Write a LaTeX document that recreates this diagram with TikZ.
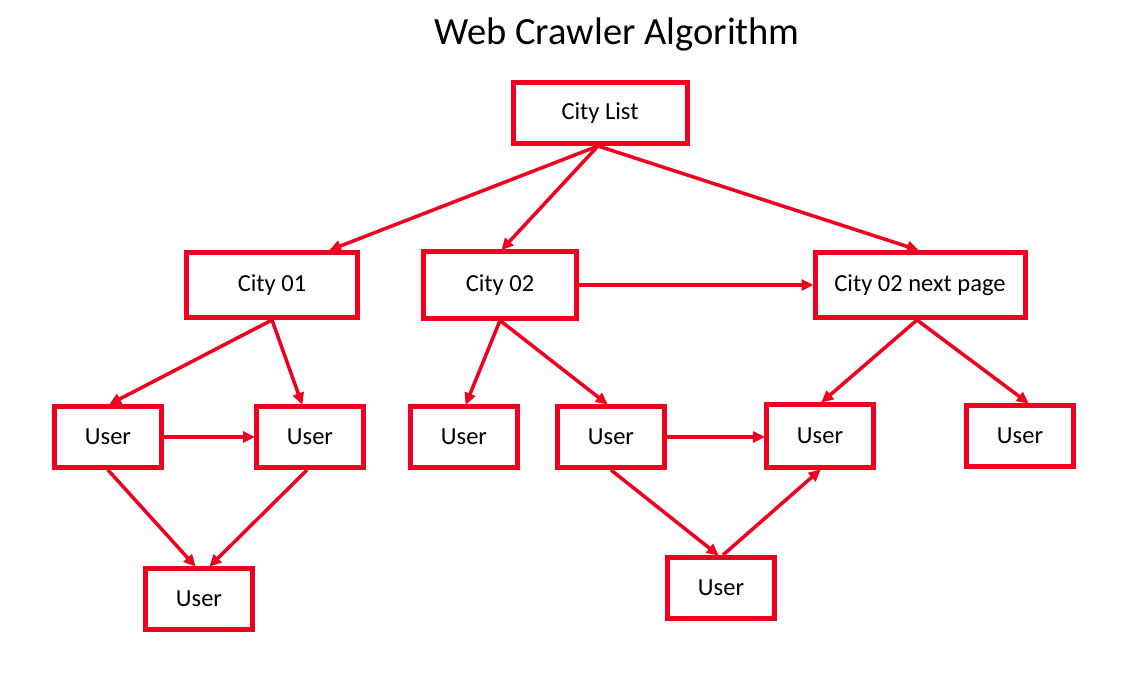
\documentclass[tikz,border=0pt]{standalone}
\usepackage{fontspec}
\setmainfont{Carlito}
\usetikzlibrary{arrows.meta,calc}
\definecolor{boxred}{RGB}{238,0,30}
\begin{document}
\begin{tikzpicture}[x=1pt,y=-1pt,
  box/.style={draw=boxred,line width=5pt,fill=white,font=\fontsize{24.5}{28}\selectfont,inner sep=0pt},
  userbox/.style={box,minimum width=107pt,minimum height=61pt},
  conn/.style={draw=boxred,line width=3.5pt,-{Triangle[length=12pt,width=11pt]},shorten >=-1pt}]
\useasboundingbox (0,0) rectangle (1146,679);
\node[font=\fontsize{38.5}{44}\selectfont] (title) at (617,34) {Web Crawler Algorithm};
\node[box,minimum width=174pt,minimum height=61pt] (cl) at (600,113) {City List};
\node[box,minimum width=171pt,minimum height=65pt] (c1) at (272,285) {City 01};
\node[box,minimum width=153pt,minimum height=66pt] (c2) at (500,285) {City 02};
\node[box,minimum width=210pt,minimum height=65pt] (np) at (920,285) {City 02 next page};
\node[userbox] (u1) at (108,437) {User};
\node[userbox] (u2) at (310,437) {User};
\node[userbox] (u3) at (464,437) {User};
\node[userbox] (u4) at (611,437) {User};
\node[userbox,minimum height=63pt] (u5) at (820,436) {User};
\node[userbox] (u6) at (1020,436) {User};
\node[userbox] (u7) at (199,599) {User};
\node[userbox] (u8) at (721,588) {User};
\draw[conn] ([xshift=-2pt]cl.south) -- ([xshift=58pt]c1.north);
\draw[conn] ([xshift=-2pt]cl.south) -- ([xshift=2pt]c2.north);
\draw[conn] ([xshift=-2pt]cl.south) -- ([xshift=-2pt]np.north);
\draw[conn] (c2.east) -- (np.west);
\draw[conn] (c1.south) -- ([xshift=2pt]u1.north);
\draw[conn] (c1.south) -- ([xshift=-8pt]u2.north);
\draw[conn] (c2.south) -- ([xshift=2pt]u3.north);
\draw[conn] (c2.south) -- ([xshift=-4pt]u4.north);
\draw[conn] ([xshift=-3pt]np.south) -- ([xshift=2pt]u5.north);
\draw[conn] ([xshift=-3pt]np.south) -- ([xshift=8pt]u6.north);
\draw[conn] (u1.east) -- (u2.west);
\draw[conn] (u4.east) -- ([yshift=-1pt]u5.west);
\draw[conn] (u1.south) -- ([xshift=-4pt]u7.north);
\draw[conn] ([xshift=-3pt]u2.south) -- ([xshift=11pt]u7.north);
\draw[conn] (u4.south) -- ([xshift=-3pt]u8.north);
\draw[conn] ([xshift=2pt]u8.north) -- (u5.south);
\end{tikzpicture}
\end{document}
